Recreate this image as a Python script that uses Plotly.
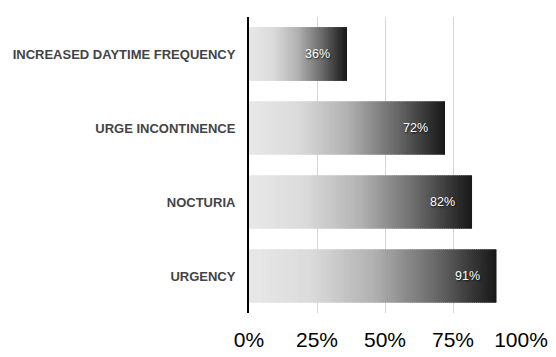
import plotly.graph_objects as go
import numpy as np

# Symptom prevalence (percent of respondents)
categories = ["INCREASED DAYTIME FREQUENCY", "URGE INCONTINENCE", "NOCTURIA", "URGENCY"]
values = [36, 72, 82, 91]
tick_vals = [0, 25, 50, 75, 100]
tick_text = ["0%", "25%", "50%", "75%", "100%"]

# Horizontal gradient along each bar: light grey at the base, near-black at the tip
grad_stops = [(0.0, 232), (0.25, 219), (0.5, 178), (0.75, 106), (0.9, 56), (1.0, 24)]
n_seg = 120

def grey_at(t):
    xs = [s[0] for s in grad_stops]
    ys = [s[1] for s in grad_stops]
    g = int(round(np.interp(t, xs, ys)))
    return f"rgb({g},{g},{g})"

vals = np.array(values, dtype=float)
fig = go.Figure()
for k in range(n_seg):
    frac0 = k / n_seg
    step = vals / n_seg
    # overlap each slice slightly into the next to avoid hairline seams
    width = step * (1.6 if k < n_seg - 1 else 1.0)
    fig.add_trace(go.Bar(
        y=categories,
        x=width,
        base=vals * frac0,
        orientation="h",
        marker=dict(color=grey_at((k + 0.5) / n_seg), line=dict(width=0)),
        width=0.72,
        hoverinfo="skip",
        showlegend=False,
    ))

# Value labels inside the end of each bar
for cat, v in zip(categories, values):
    fig.add_annotation(
        x=v, y=cat, xref="x", yref="y",
        text=f"{v}%", showarrow=False,
        xanchor="right", xshift=-15,
        font=dict(family="Liberation Sans, Arial, sans-serif", size=12.5, color="white",
                  shadow="1px 1px 2px rgba(0,0,0,0.8)"),
    )

fig.update_layout(
    width=556, height=357,
    margin=dict(l=249, r=35, t=17, b=44),
    barmode="overlay",
    plot_bgcolor="white",
    paper_bgcolor="white",
    font=dict(family="Liberation Sans, Arial, sans-serif"),
)
fig.update_xaxes(
    range=[0, 100],
    tickvals=tick_vals, ticktext=tick_text,
    tickfont=dict(size=21, color="black"),
    showgrid=True, gridcolor="#d4d4d4", gridwidth=1,
    zeroline=False, showline=False, ticks="",
    ticklabelstandoff=12,
    automargin=False,
    fixedrange=True,
)
fig.update_yaxes(
    categoryorder="array", categoryarray=categories[::-1],
    tickfont=dict(size=13, color="#444444", family="Liberation Sans, Arial, sans-serif", weight="bold"),
    showline=True, linecolor="black", linewidth=2,
    showgrid=False, zeroline=False, ticks="",
    ticklabelstandoff=9,
    automargin=False,
    fixedrange=True,
)

fig.write_html("out.html")
